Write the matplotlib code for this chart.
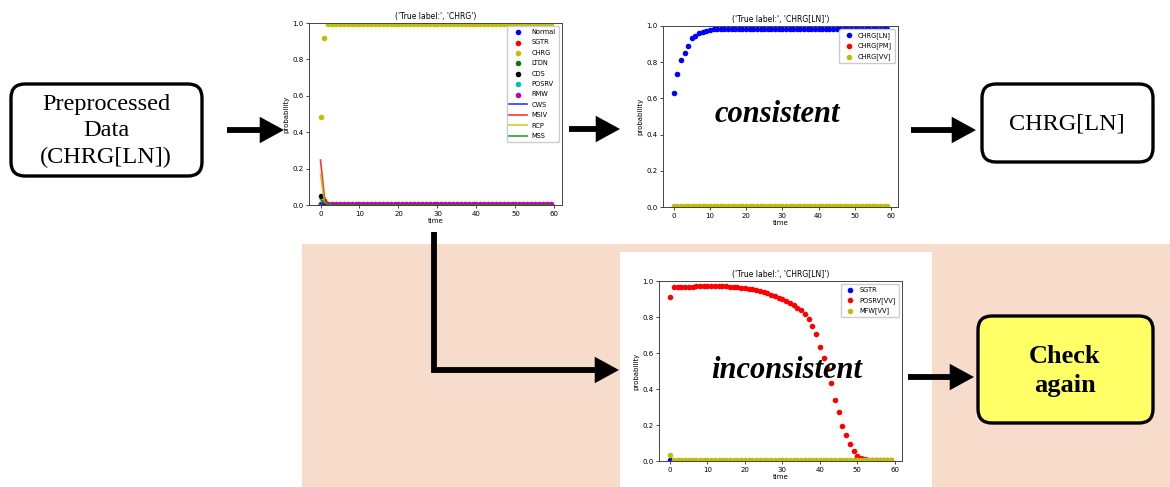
import numpy as np
import matplotlib
matplotlib.use("Agg")
import matplotlib.pyplot as plt
from matplotlib.patches import FancyBboxPatch, Rectangle

W, H = 1170, 487

# ---- data ----
time = np.arange(60)

# chart 1: True label CHRG
c1_normal = [0.005, 0.002] + [0.001] * 58
c1_sgtr = [0.003, 0.002] + [0.001] * 58
c1_chrg = [0.483, 0.920] + [0.993] * 58
c1_ltdn = [0.004, 0.022] + [0.001] * 58
c1_cds = [0.051, 0.008] + [0.001] * 58
c1_posrv = [0.008, 0.003] + [0.001] * 58
c1_rmw = [0.002, 0.002] + [0.003] * 58
c1_cws = [0.010, 0.003] + [0.001] * 58
c1_msiv = [0.247, 0.045, 0.003] + [0.001] * 57
c1_rcp = [0.170, 0.015, 0.002] + [0.001] * 57
c1_mss = [0.030, 0.010, 0.002] + [0.001] * 57
c1_points = ["Normal", "SGTR", "CHRG", "LTDN", "CDS", "POSRV", "RMW"]
c1_lines = ["CWS", "MSIV", "RCP", "MSS"]

# chart 2: True label CHRG[LN]
c2_ln = [0.628, 0.734, 0.812, 0.851, 0.892, 0.931, 0.944, 0.961, 0.968, 0.974,
         0.978, 0.981, 0.983, 0.984, 0.985] + [0.986] * 45
c2_pm = [0.002] * 60
c2_vv = [0.003] * 60
c2_labels = ["CHRG[LN]", "CHRG[PM]", "CHRG[VV]"]

# chart 3: True label CHRG[LN], misclassified
c3_sgtr = [0.006] + [0.001] * 59
c3_posrv = [0.909, 0.966, 0.967, 0.968, 0.968, 0.969, 0.969, 0.970, 0.971, 0.972,
            0.973, 0.973, 0.973, 0.972, 0.971, 0.970, 0.968, 0.966, 0.964, 0.962,
            0.960, 0.958, 0.955, 0.950, 0.945, 0.940, 0.933, 0.925, 0.917, 0.908,
            0.900, 0.890, 0.880, 0.865, 0.852, 0.837, 0.814, 0.789, 0.751, 0.707,
            0.636, 0.573, 0.514, 0.434, 0.341, 0.275, 0.197, 0.143, 0.093, 0.054,
            0.028, 0.015, 0.009, 0.006, 0.005, 0.004, 0.004, 0.003, 0.003, 0.003]
c3_mfw = [0.033] + [0.003] * 59
c3_labels = ["SGTR", "POSRV[VV]", "MFW[VV]"]


def rect(x0, y0, x1, y1):
    # pixel box -> figure fraction [left, bottom, width, height]
    return [x0 / W, 1 - y1 / H, (x1 - x0) / W, (y1 - y0) / H]


fig = plt.figure(figsize=(W / 100, H / 100), dpi=100)

# background axes in pixel coordinates
bg = fig.add_axes([0, 0, 1, 1], zorder=-5)
bg.set_xlim(0, W)
bg.set_ylim(H, 0)
bg.axis("off")

bg.add_patch(Rectangle((302, 244), W - 302, H - 244, color="#f8dccb", lw=0))
bg.add_patch(Rectangle((620, 252), 312, H - 252, color="white", lw=0))


def box(x0, y0, x1, y1, fc="white"):
    bg.add_patch(FancyBboxPatch((x0, y0), x1 - x0, y1 - y0,
                                boxstyle="round,pad=0,rounding_size=14",
                                fc=fc, ec="black", lw=2.4))


serif = "Liberation Serif"
box(11, 84, 202, 176)
bg.text(106, 131, "Preprocessed\nData\n(CHRG[LN])", ha="center", va="center",
        fontsize=17.5, family=serif, linespacing=1.32)
box(982, 84, 1153, 162)
bg.text(1067, 124, "CHRG[LN]", ha="center", va="center", fontsize=17.5, family=serif)
box(978, 316, 1153, 423, fc="#ffff66")
bg.text(1065, 371, "Check\nagain", ha="center", va="center", fontsize=19,
        family=serif, weight="bold", linespacing=1.3)

head = "-|>,head_length=0.55,head_width=0.3"


def arrow(x0, y0, x1, y1, conn="arc3"):
    bg.annotate("", xy=(x1, y1), xytext=(x0, y0),
                arrowprops=dict(arrowstyle=head, lw=4.2, color="black",
                                mutation_scale=20, shrinkA=0, shrinkB=0,
                                connectionstyle=conn, joinstyle="miter",
                                capstyle="butt"))


arrow(227, 130, 284, 130)
arrow(569, 129, 620, 129)
arrow(911, 130, 976, 130)
arrow(908, 377, 974, 377)
arrow(434, 232, 619, 370, conn="angle,angleA=90,angleB=0,rad=0")


def style(ax, title):
    ax.set_title(title, fontsize=5.5, pad=3)
    ax.set_xlabel("time", fontsize=5, labelpad=1)
    ax.set_ylabel("probability", fontsize=5, labelpad=2)
    ax.set_ylim(0, 1.0)
    ax.set_xticks(range(0, 61, 10))
    ax.tick_params(labelsize=5, length=2, width=0.5, pad=2)
    for s in ax.spines.values():
        s.set_linewidth(0.7)
        s.set_color("#444444")


ms = 16

# chart 1
ax1 = fig.add_axes(rect(309, 23, 562, 205))
for vals, c, lab in zip([c1_cws, c1_msiv, c1_rcp, c1_mss], ["b", "r", "y", "g"], c1_lines):
    ax1.plot(time, vals, color=c, lw=1.2, alpha=0.8, label=lab)
for vals, c, lab in zip([c1_normal, c1_sgtr, c1_chrg, c1_ltdn, c1_cds, c1_posrv, c1_rmw],
                        ["b", "r", "y", "g", "k", "c", "m"], c1_points):
    ax1.scatter(time, vals, s=ms, color=c, label=lab, lw=0)
h, l = ax1.get_legend_handles_labels()
order = [l.index(n) for n in c1_points + c1_lines]
ax1.legend([h[i] for i in order], [l[i] for i in order], loc="upper right",
           fontsize=4.8, handlelength=2.6, labelspacing=0.66, borderpad=0.4,
           framealpha=1)
style(ax1, "('True label:', 'CHRG')")

# chart 2
ax2 = fig.add_axes(rect(663, 26, 898, 207))
for vals, c, lab in zip([c2_ln, c2_pm, c2_vv], ["b", "r", "y"], c2_labels):
    ax2.scatter(time, vals, s=ms, color=c, label=lab, lw=0)
ax2.legend(loc="upper right", fontsize=4.8, labelspacing=0.6, borderpad=0.4,
           handletextpad=0.4, framealpha=1)
style(ax2, "('True label:', 'CHRG[LN]')")

# chart 3
ax3 = fig.add_axes(rect(659, 281, 902, 461))
for vals, c, lab in zip([c3_sgtr, c3_posrv, c3_mfw], ["b", "r", "y"], c3_labels):
    ax3.scatter(time, vals, s=ms, color=c, label=lab, lw=0)
ax3.legend(loc="upper right", fontsize=4.8, labelspacing=0.6, borderpad=0.4,
           handletextpad=0.4, framealpha=1)
style(ax3, "('True label:', 'CHRG[LN]')")

fig.text(777 / W, 1 - 115 / H, "consistent", ha="center", va="center",
         fontsize=22, family=serif, weight="bold", style="italic")
fig.text(787 / W, 1 - 371 / H, "inconsistent", ha="center", va="center",
         fontsize=22, family=serif, weight="bold", style="italic")

fig.savefig("out.png", dpi=100)
